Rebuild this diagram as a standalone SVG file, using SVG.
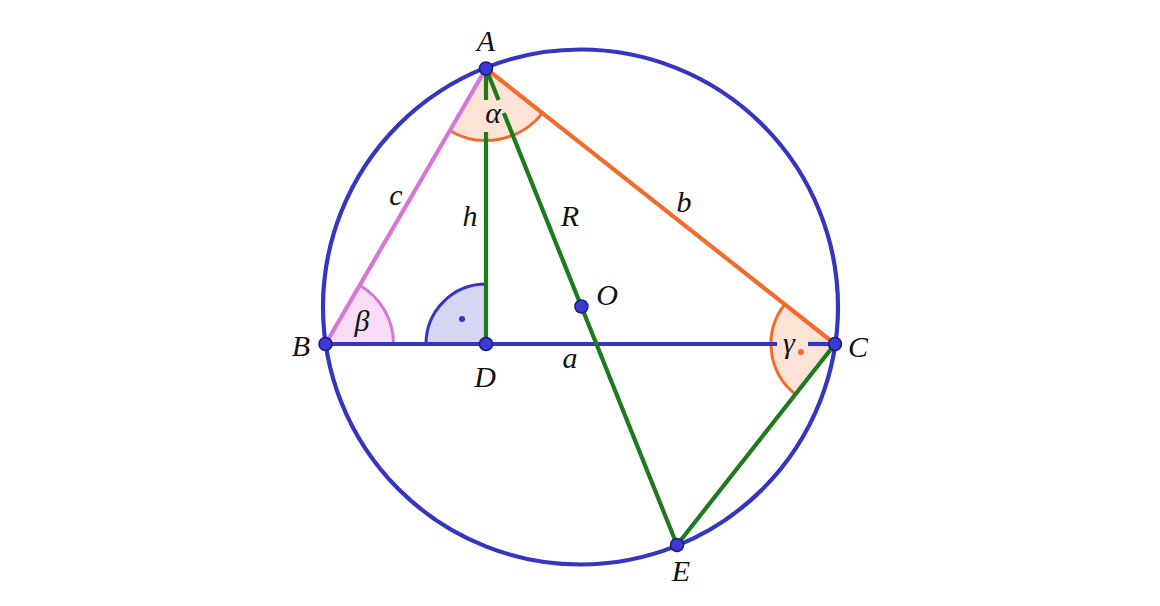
<svg xmlns="http://www.w3.org/2000/svg" width="1160" height="606" viewBox="0 0 1160 606">
<style>
.lbl{font-family:"Liberation Serif","DejaVu Serif",serif;font-style:italic;font-size:30px;fill:#111;text-anchor:middle}
.ln{fill:none;stroke-width:4.2;stroke-linecap:butt}
.blue{stroke:#3535c2}
.green{stroke:#1d7a1d}
.orange{stroke:#f36a2a}
.pink{stroke:#d676d8}
.pt{fill:#3b3bd4;stroke:#1c1c80;stroke-width:1.5}
</style>
<rect width="1160" height="606" fill="#fff"/>
<g id="angles">
<path id="angle-alpha" d="M486,68.5 L449.75,130.7 A72,72 0 0 0 542.5,113.1 Z" fill="#fde2d6" stroke="#f36a2a" stroke-width="3"/>
<path id="angle-beta" d="M325.5,344 L393.5,344 A68,68 0 0 0 359.7,285.2 Z" fill="#f6dcf6" stroke="#d676d8" stroke-width="3"/>
<path id="angle-D" d="M486,344 L426,344 A60,60 0 0 1 486,284 Z" fill="#d6d6f2" stroke="#3535c2" stroke-width="3"/>
<circle cx="462" cy="319" r="3" fill="#3535c2"/>
<path id="angle-gamma" d="M835,344 L784.8,304.3 A64,64 0 0 0 795.2,394.1 Z" fill="#fde2d6" stroke="#f36a2a" stroke-width="3"/>
<circle cx="801" cy="352" r="3" fill="#f36a2a"/>
</g>
<g id="connectors">
<circle id="circumcircle" cx="580.5" cy="307" r="257.5" class="ln blue"/>
<line x1="325.5" y1="344" x2="777" y2="344" class="ln blue"/>
<line x1="808" y1="344" x2="835" y2="344" class="ln blue"/>
<line x1="486" y1="68.5" x2="325.5" y2="344" class="ln pink"/>
<line x1="486" y1="68.5" x2="835" y2="344" class="ln orange"/>
<line x1="486" y1="68.5" x2="486" y2="100" class="ln green"/>
<line x1="486" y1="132" x2="486" y2="344" class="ln green"/>
<line x1="486" y1="68.5" x2="498.6" y2="100" class="ln green"/>
<line x1="503.8" y1="113" x2="677" y2="545" class="ln green"/>
<line x1="835" y1="344" x2="677" y2="545" class="ln green"/>
</g>
<g id="node-A"><circle cx="486" cy="68.5" r="6.5" class="pt"/><text x="486" y="51" class="lbl">A</text></g>
<g id="node-B"><circle cx="325.5" cy="344" r="6.5" class="pt"/><text x="301" y="356" class="lbl">B</text></g>
<g id="node-C"><circle cx="835" cy="344" r="6.5" class="pt"/><text x="858" y="357" class="lbl">C</text></g>
<g id="node-D"><circle cx="486" cy="344" r="6.5" class="pt"/><text x="485" y="387" class="lbl">D</text></g>
<g id="node-O"><circle cx="581.4" cy="306.5" r="6.5" class="pt"/><text x="607" y="305" class="lbl">O</text></g>
<g id="node-E"><circle cx="677" cy="545" r="6.5" class="pt"/><text x="681" y="581" class="lbl">E</text></g>
<g id="labels">
<text x="570" y="368" class="lbl">a</text>
<text x="684" y="212" class="lbl">b</text>
<text x="396" y="205" class="lbl">c</text>
<text x="470" y="226" class="lbl">h</text>
<text x="570" y="226" class="lbl">R</text>
<text x="493" y="123" class="lbl">α</text>
<text x="362" y="331" class="lbl">β</text>
<text x="789" y="353" class="lbl">γ</text>
</g>
</svg>
